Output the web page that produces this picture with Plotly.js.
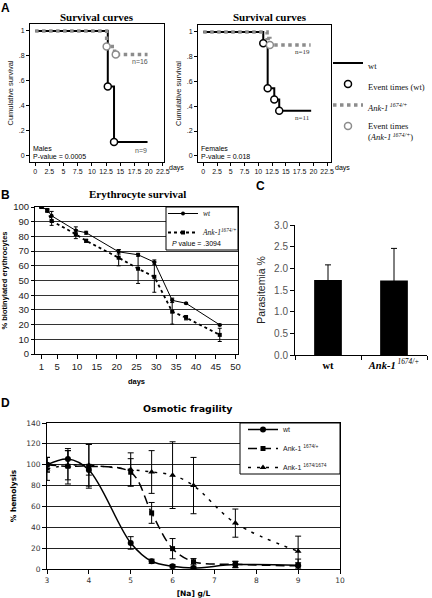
<!DOCTYPE html>
<html>
<head>
<meta charset="utf-8">
<script src="https://cdn.plot.ly/plotly-3.0.1.min.js"></script>
<style>html,body{margin:0;padding:0;background:#fff;}#chart{width:432px;height:598px;}</style>
</head>
<body>
<div id="chart"></div>
<script>
// ---------- Panel A: survival curves (Kaplan-Meier) ----------
const survTicks = [0, 2.5, 5, 7.5, 10, 12.5, 15, 17.5, 20, 22.5];
const survTickText = ['0', '2.5', '5', '7.5', '10', '12.5', '15', '17.5', '20', '22.5'];
const survYTicks = [0, 0.2, 0.4, 0.6, 0.8, 1];
const survYText = ['0', '.2', '.4', '.6', '.8', '1'];

const maleWtT = [0, 12.8, 13.9, 19.8];
const maleWtS = [1, 0.556, 0.111, 0.111];
const maleAnkT = [0, 12.6, 14.0, 19.8];
const maleAnkS = [1, 0.875, 0.8125, 0.8125];
const maleWtEvT = [12.8, 13.9];
const maleWtEvS = [0.556, 0.111];
const maleAnkEvT = [12.6, 14.2];
const maleAnkEvS = [0.875, 0.8125];

const femWtT = [0, 10.9, 11.7, 12.9, 13.8, 19.6];
const femWtS = [1, 0.909, 0.545, 0.455, 0.364, 0.364];
const femAnkT = [0, 11.6, 12.1, 19.5];
const femAnkS = [1, 0.947, 0.895, 0.895];
const femWtEvT = [10.9, 11.7, 12.9, 13.8];
const femWtEvS = [0.909, 0.545, 0.455, 0.364];
const femAnkEvT = [12.1];
const femAnkEvS = [0.895];

// ---------- Panel B: erythrocyte survival ----------
const eryTicks = [1, 5, 10, 15, 20, 25, 30, 35, 40, 45, 50];
const eryDays = [1, 2.5, 3.6, 9.7, 12.3, 20.5, 25.4, 29.5, 34, 37.5, 46];
const eryWt = [100, 98, 94, 84, 82.5, 69.5, 67.5, 62.5, 36.5, 34.5, 19.8];
const eryWtErr = [0.5, 1, 3, 2.5, 1, 1.5, 1, 1.5, 1.5, 0.5, 0.5];
const eryAnk = [100, 97.5, 90.5, 81.5, 77, 65.5, 58, 52.5, 28.8, 24.7, 13];
const eryAnkErr = [0.5, 1, 3, 3, 1, 5.5, 10, 10.5, 8.5, 1.5, 4.5];

// ---------- Panel C: parasitemia ----------
const paraCats = ['wt', 'Ank-1'];
const paraLabels = ['<b>wt</b>', '<b><i>Ank-1</i></b><i><sup> 1674/+</sup></i>'];
const paraVals = [1.73, 1.72];
const paraErr = [0.35, 0.74];

// ---------- Panel D: osmotic fragility ----------
const naConc = [3, 3.5, 4, 5, 5.5, 6, 6.5, 7.5, 9];
const osmWt = [100, 105.5, 95, 25, 7.4, 2.6, 1, 4.2, 3.5];
const osmWtErr = [7, 8, 5, 6, 2, 1.5, 1, 3, 6];
const osmHet = [100, 98.5, 98.5, 92.8, 53.8, 19.5, 7, 4.5, 3];
const osmHetErr = [7, 17, 21, 13, 10, 9.7, 3, 3, 3];
const osmHom = [96, 99.5, 99.5, 95.4, 93, 90, 80, 44, 17];
const osmHomErr = [11, 14, 20, 16, 20.5, 32, 27, 13.5, 14.5];

const W = 432, H = 598;
const X = px => px / W;
const Y = py => 1 - py / H;
const SANS = 'Liberation Sans, Arial, sans-serif';
const SERIF = 'Liberation Serif, Times New Roman, serif';
const VERD = 'DejaVu Sans, Verdana, sans-serif';
const GRAY = '#8c8c8c';

const traces = [];
// Panel A left (males)
traces.push({x: maleWtT, y: maleWtS, xaxis: 'x', yaxis: 'y', mode: 'lines', name: 'wt',
  line: {shape: 'hv', color: 'black', width: 2}, legend: 'legend', legendrank: 1, legendgroup: 'a1'});
traces.push({x: maleAnkT, y: maleAnkS, xaxis: 'x', yaxis: 'y', mode: 'lines',
  name: '<i>Ank-1</i><i><sup> 1674/+</sup></i>',
  line: {shape: 'hv', color: GRAY, width: 3.5, dash: 'dot'}, legend: 'legend', legendrank: 3, legendgroup: 'a3'});
traces.push({x: maleWtEvT, y: maleWtEvS, xaxis: 'x', yaxis: 'y', mode: 'markers', name: 'Event times (wt)',
  marker: {symbol: 'circle', size: 7, color: 'white', line: {color: 'black', width: 1.5}},
  legend: 'legend', legendrank: 2, legendgroup: 'a2'});
traces.push({x: maleAnkEvT, y: maleAnkEvS, xaxis: 'x', yaxis: 'y', mode: 'markers',
  name: 'Event times<br>(<i>Ank-1</i><i><sup> 1674/+</sup></i>)',
  marker: {symbol: 'circle', size: 7, color: 'white', line: {color: GRAY, width: 1.5}},
  legend: 'legend', legendrank: 4, legendgroup: 'a4'});
// Panel A right (females)
traces.push({x: femWtT, y: femWtS, xaxis: 'x2', yaxis: 'y2', mode: 'lines', showlegend: false,
  line: {shape: 'hv', color: 'black', width: 2}});
traces.push({x: femAnkT, y: femAnkS, xaxis: 'x2', yaxis: 'y2', mode: 'lines', showlegend: false,
  line: {shape: 'hv', color: GRAY, width: 3.5, dash: 'dot'}});
traces.push({x: femWtEvT, y: femWtEvS, xaxis: 'x2', yaxis: 'y2', mode: 'markers', showlegend: false,
  marker: {symbol: 'circle', size: 7, color: 'white', line: {color: 'black', width: 1.5}}});
traces.push({x: femAnkEvT, y: femAnkEvS, xaxis: 'x2', yaxis: 'y2', mode: 'markers', showlegend: false,
  marker: {symbol: 'circle', size: 7, color: 'white', line: {color: GRAY, width: 1.5}}});

// Panel B
traces.push({x: eryDays, y: eryWt, xaxis: 'x3', yaxis: 'y3', mode: 'lines+markers', name: '<i>wt</i>',
  line: {color: 'black', width: 1}, marker: {symbol: 'circle', size: 4, color: 'black'},
  error_y: {type: 'data', array: eryWtErr, color: 'black', thickness: 1, width: 2},
  legend: 'legend2'});
traces.push({x: eryDays, y: eryAnk, xaxis: 'x3', yaxis: 'y3', mode: 'lines+markers',
  name: '<i>Ank-1</i><i><sup>1674/+</sup></i>',
  line: {color: 'black', width: 1.8, dash: 'dot'}, marker: {symbol: 'square', size: 4, color: 'black'},
  error_y: {type: 'data', array: eryAnkErr, color: 'black', thickness: 1, width: 2},
  legend: 'legend2'});

// Panel C
traces.push({x: paraCats, y: paraVals, xaxis: 'x4', yaxis: 'y4', type: 'bar', showlegend: false,
  width: 0.42, marker: {color: 'black', line: {color: 'black', width: 0}},
  error_y: {type: 'data', array: paraErr, color: 'black', thickness: 1, width: 3}});

// Panel D
traces.push({x: naConc, y: osmWt, xaxis: 'x5', yaxis: 'y5', mode: 'lines+markers', name: 'wt',
  line: {color: 'black', width: 1.5, shape: 'spline', smoothing: 1},
  marker: {symbol: 'circle', size: 6, color: 'black'},
  error_y: {type: 'data', array: osmWtErr, color: 'black', thickness: 1, width: 3},
  legend: 'legend3'});
traces.push({x: naConc, y: osmHet, xaxis: 'x5', yaxis: 'y5', mode: 'lines+markers', name: 'Ank-1 <sup>1674/+</sup>',
  line: {color: 'black', width: 1.5, shape: 'spline', smoothing: 1, dash: '9px,5px'},
  marker: {symbol: 'square', size: 5, color: 'black'},
  error_y: {type: 'data', array: osmHetErr, color: 'black', thickness: 1, width: 3},
  legend: 'legend3'});
traces.push({x: naConc, y: osmHom, xaxis: 'x5', yaxis: 'y5', mode: 'lines+markers', name: 'Ank-1 <sup>1674/1674</sup>',
  line: {color: 'black', width: 1.5, shape: 'spline', smoothing: 1, dash: '3px,6px'},
  marker: {symbol: 'triangle-up', size: 6, color: 'black'},
  error_y: {type: 'data', array: osmHomErr, color: 'black', thickness: 1, width: 3},
  legend: 'legend3'});

const boxAxis = (extra) => Object.assign({
  showline: true, mirror: true, linecolor: 'black', linewidth: 1,
  showgrid: false, zeroline: false, ticks: 'outside', ticklen: 3, tickcolor: 'black',
  fixedrange: true
}, extra);

const survX = (dom, range, anchor) => boxAxis({domain: dom, range: range, anchor: anchor,
  tickmode: 'array', tickvals: survTicks, ticktext: survTickText,
  tickfont: {family: SANS, size: 7, color: '#111'}});
const survY = (dom, anchor) => boxAxis({domain: dom, range: [-0.05, 1.056], anchor: anchor,
  tickmode: 'array', tickvals: survYTicks, ticktext: survYText,
  tickfont: {family: SANS, size: 7, color: '#111'},
  title: {text: 'Cumulative survival', font: {family: SANS, size: 7.5, color: '#111'}, standoff: 4}});

const layout = {
  width: W, height: H,
  margin: {l: 0, r: 0, t: 0, b: 0},
  paper_bgcolor: 'white', plot_bgcolor: 'white',
  font: {family: SANS, color: 'black', size: 8},
  xaxis: survX([X(30), X(164)], [-0.9, 22.7], 'y'),
  yaxis: survY([Y(162), Y(24)], 'x'),
  xaxis2: survX([X(198), X(331)], [-0.95, 23.2], 'y2'),
  yaxis2: survY([Y(162), Y(25)], 'x2'),
  xaxis3: boxAxis({domain: [X(35), X(238)], range: [-0.6, 50.6], anchor: 'y3',
    tickmode: 'array', tickvals: eryTicks, ticklen: 4,
    tickfont: {family: SANS, size: 9.5, color: '#222'},
    title: {text: '<b>days</b>', font: {family: SANS, size: 7.5}, standoff: 7}}),
  yaxis3: boxAxis({domain: [Y(354), Y(207)], range: [0, 100], dtick: 10, anchor: 'x3',
    showgrid: true, gridcolor: '#333', gridwidth: 1,
    tickfont: {family: SANS, size: 9.5, color: '#222'},
    title: {text: '<b>% biotinylated erythrocytes</b>', font: {family: SANS, size: 7.5}, standoff: 4}}),
  xaxis4: {domain: [X(295), X(427)], range: [-0.5, 1.5], anchor: 'y4', type: 'category',
    tickmode: 'array', tickvals: paraCats, ticktext: paraLabels, tickson: 'boundaries',
    showline: true, linecolor: 'black', linewidth: 1, ticks: 'outside', ticklen: 4, tickcolor: 'black',
    showgrid: false, zeroline: false, fixedrange: true,
    tickfont: {family: SERIF, size: 10.5, color: 'black'}},
  yaxis4: {domain: [Y(355), Y(225)], range: [0, 3.0], dtick: 0.5, tickformat: '.1f', anchor: 'x4',
    showline: true, linecolor: 'black', linewidth: 1, ticks: 'outside', ticklen: 4, tickcolor: 'black',
    showgrid: false, zeroline: false, fixedrange: true,
    tickfont: {family: SANS, size: 10, color: '#555'},
    title: {text: 'Parasitemia %', font: {family: SANS, size: 10.5, color: '#222'}, standoff: 6}},
  xaxis5: boxAxis({domain: [X(47), X(340)], range: [3, 10], dtick: 1, anchor: 'y5', ticklen: 4,
    tickfont: {family: VERD, size: 7.5, color: '#333'},
    title: {text: '<b>[Na] g/L</b>', font: {family: VERD, size: 7.5}, standoff: 6}}),
  yaxis5: boxAxis({domain: [Y(569), Y(423)], range: [0, 140], dtick: 20, anchor: 'x5', ticklen: 4,
    showgrid: true, gridcolor: '#222', gridwidth: 1,
    tickfont: {family: VERD, size: 7.5, color: '#333'},
    title: {text: '<b>% hemolysis</b>', font: {family: VERD, size: 7.5}, standoff: 8}}),
  legend: {x: X(328), y: Y(51), xanchor: 'left', yanchor: 'top', bgcolor: 'rgba(0,0,0,0)',
    font: {family: SERIF, size: 8.5, color: '#111'}, itemwidth: 30, valign: 'top', tracegroupgap: 2,
    traceorder: 'grouped'},
  legend2: {x: X(163), y: Y(199), xanchor: 'left', yanchor: 'top', bgcolor: 'rgba(0,0,0,0)',
    font: {family: SERIF, size: 7.5, color: '#111'}, itemwidth: 30, tracegroupgap: 0},
  legend3: {x: X(243), y: Y(415), xanchor: 'left', yanchor: 'top', bgcolor: 'rgba(0,0,0,0)',
    font: {family: SANS, size: 7, color: '#222'}, itemwidth: 30, tracegroupgap: 0},
  shapes: [
    {type: 'rect', xref: 'paper', yref: 'paper', x0: X(166), x1: X(238), y0: Y(250), y1: Y(207),
      line: {color: 'black', width: 1}, fillcolor: 'white', layer: 'above'},
    {type: 'rect', xref: 'paper', yref: 'paper', x0: X(240), x1: X(340), y0: Y(474), y1: Y(423),
      line: {color: 'black', width: 1}, fillcolor: 'white', layer: 'above'}
  ],
  annotations: []
};

function ann(px, py, text, font, opts) {
  layout.annotations.push(Object.assign({xref: 'paper', yref: 'paper', x: X(px), y: Y(py),
    text: text, showarrow: false, font: font, xanchor: 'center', yanchor: 'middle'}, opts || {}));
}
// panel letters
ann(5, 8, '<b>A</b>', {family: SANS, size: 12});
ann(5, 195, '<b>B</b>', {family: SANS, size: 12});
ann(260, 186, '<b>C</b>', {family: SANS, size: 12});
ann(5, 403, '<b>D</b>', {family: SANS, size: 12});
// titles
ann(97, 17, '<b>Survival curves</b>', {family: SERIF, size: 11});
ann(270, 17, '<b>Survival curves</b>', {family: SERIF, size: 11});
ann(137, 194, '<b>Erythrocyte survival</b>', {family: SERIF, size: 11});
ann(188, 408, '<b>Osmotic fragility</b>', {family: VERD, size: 9.5});
// panel A texts
ann(176, 168, 'days', {family: SANS, size: 7});
ann(342, 168, 'days', {family: SANS, size: 7});
ann(31, 149, 'Males', {family: SANS, size: 7}, {xanchor: 'left'});
ann(31, 157, 'P-value = 0.0005', {family: SANS, size: 7}, {xanchor: 'left'});
ann(199, 149, 'Females', {family: SANS, size: 7}, {xanchor: 'left'});
ann(199, 157, 'P-value = 0.018', {family: SANS, size: 7}, {xanchor: 'left'});
ann(140, 61, 'n=16', {family: SANS, size: 7, color: '#555'});
ann(141, 151, 'n=9', {family: SANS, size: 7, color: '#555'});
ann(302, 52, 'n=19', {family: SERIF, size: 7, color: '#333'});
ann(302, 118, 'n=11', {family: SERIF, size: 7, color: '#333'});
// panel B p value
ann(170, 244, '<i>P</i> value = .3094', {family: SANS, size: 7}, {xanchor: 'left'});

Plotly.newPlot('chart', traces, layout, {displayModeBar: false, staticPlot: true});
</script>
</body>
</html>
